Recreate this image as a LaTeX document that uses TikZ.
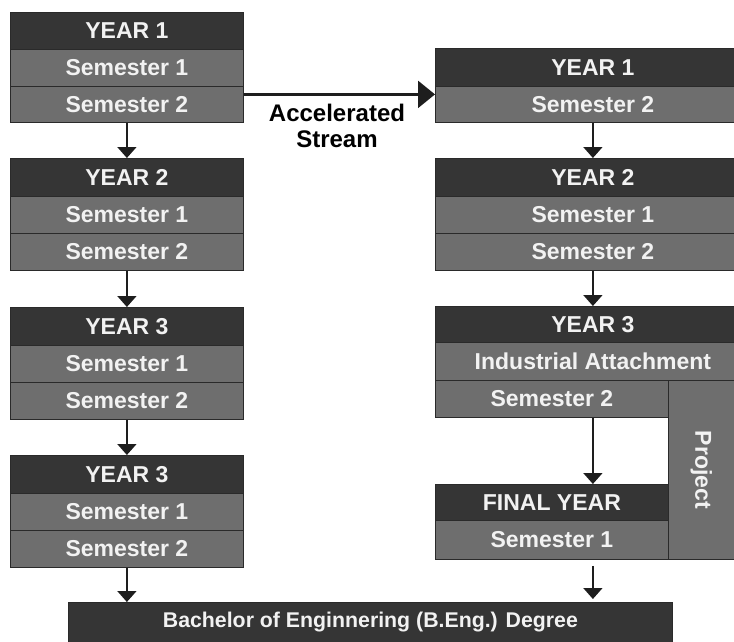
\documentclass[tikz,border=0pt]{standalone}
\usepackage{fontspec}
\setmainfont{Liberation Sans}
\usetikzlibrary{arrows.meta,calc}
\definecolor{hdrc}{HTML}{353535}
\definecolor{semc}{HTML}{6E6E6E}
\definecolor{edgec}{HTML}{2A2A2A}
\definecolor{txtc}{HTML}{F2F2F2}
\definecolor{linec}{HTML}{1E1E1E}
\tikzset{
  cell/.style={draw=edgec, line width=0.8pt, inner sep=0pt, anchor=north west,
    text=txtc, font=\fontsize{23}{25}\selectfont\bfseries},
  hdr/.style={cell, fill=hdrc},
  semrow/.style={cell, fill=semc},
  flow/.style={draw=linec, line width=1.8pt, -{Triangle[width=19pt,length=11pt]}},
  bigflow/.style={draw=linec, line width=2.4pt, -{Triangle[width=27pt,length=17pt]}},
  lbl/.style={text=black, align=center, font=\fontsize{24}{26}\selectfont\bfseries},
}
\begin{document}
\begin{tikzpicture}[x=1pt,y=-1pt]
\useasboundingbox (0,0) rectangle (734,642);
\clip (0,0) rectangle (734,642);
% left column
\node[hdr,    minimum width=233pt, minimum height=37pt] (l1h) at (10,12)  {YEAR 1};
\node[semrow, minimum width=233pt, minimum height=37pt] (l1a) at (10,49)  {Semester 1};
\node[semrow, minimum width=233pt, minimum height=36pt] (l1b) at (10,86)  {Semester 2};
\node[hdr,    minimum width=233pt, minimum height=38pt] (l2h) at (10,158) {YEAR 2};
\node[semrow, minimum width=233pt, minimum height=37pt] (l2a) at (10,196) {Semester 1};
\node[semrow, minimum width=233pt, minimum height=37pt] (l2b) at (10,233) {Semester 2};
\node[hdr,    minimum width=233pt, minimum height=38pt] (l3h) at (10,307) {YEAR 3};
\node[semrow, minimum width=233pt, minimum height=37pt] (l3a) at (10,345) {Semester 1};
\node[semrow, minimum width=233pt, minimum height=37pt] (l3b) at (10,382) {Semester 2};
\node[hdr,    minimum width=233pt, minimum height=38pt] (l4h) at (10,455) {YEAR 3};
\node[semrow, minimum width=233pt, minimum height=37pt] (l4a) at (10,493) {Semester 1};
\node[semrow, minimum width=233pt, minimum height=37pt] (l4b) at (10,530) {Semester 2};
% right column
\node[hdr,    minimum width=315pt, minimum height=38pt] (r1h) at (435,48)  {YEAR 1};
\node[semrow, minimum width=315pt, minimum height=36pt] (r1b) at (435,86)  {Semester 2};
\node[hdr,    minimum width=315pt, minimum height=38pt] (r2h) at (435,158) {YEAR 2};
\node[semrow, minimum width=315pt, minimum height=37pt] (r2a) at (435,196) {Semester 1};
\node[semrow, minimum width=315pt, minimum height=37pt] (r2b) at (435,233) {Semester 2};
\node[hdr,    minimum width=315pt, minimum height=36pt] (r3h) at (435,306) {YEAR 3};
\node[semrow, minimum width=315pt, minimum height=38pt] (r3i) at (435,342) {Industrial Attachment};
\node[semrow, minimum width=233pt, minimum height=37pt] (r3b) at (435,380) {Semester 2};
\node[semrow, minimum width=82pt,  minimum height=179pt] (proj) at (668,380) {};
\node[text=txtc, font=\fontsize{23}{25}\selectfont\bfseries, rotate=-90] (projt) at ($(proj.center)+(-8,0)$) {Project};
\node[hdr,    minimum width=233pt, minimum height=36pt] (rfh) at (435,484) {FINAL YEAR};
\node[semrow, minimum width=233pt, minimum height=39pt] (rfs) at (435,520) {Semester 1};
% degree bar
\node[hdr, minimum width=604pt, minimum height=40pt, font=\fontsize{21.3}{23}\selectfont\bfseries] (bar) at (68,602) {Bachelor of Enginnering (B.Eng.) Degree};
% left arrows
\draw[flow] (l1b) -- (l2h);
\draw[flow] (l2b) -- (l3h);
\draw[flow] (l3b) -- (l4h);
\draw[flow] (l4b.south) -- (bar.north -| l4b.south);
% right arrows
\draw[flow] (r1b) -- (r2h);
\draw[flow] (r2b) -- (r3h);
\draw[flow] (r3b.south -| r3h.south) -- (rfh.north -| r3h.south);
\draw[flow, shorten <=6pt, shorten >=3pt] (rfs.south -| r3h.south) -- (bar.north -| r3h.south);
% accelerated stream
\draw[bigflow] ($(l1b.east)+(0,-10)$) -- ($(r1b.west)+(0,-10)$);
\node[lbl] (acc) at (337,126) {Accelerated\\Stream};
\end{tikzpicture}
\end{document}
